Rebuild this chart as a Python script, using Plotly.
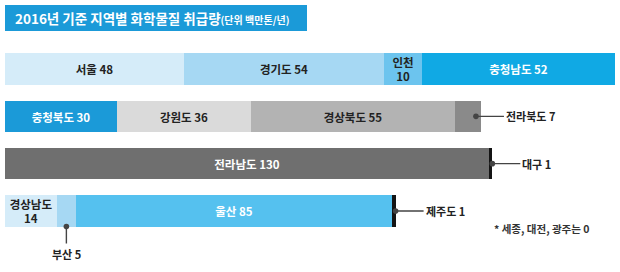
import plotly.graph_objects as go

# Chemical handling volume by region, 2016 (million tons / year), one list per bar row
regions_1 = ["서울", "경기도", "인천", "충청남도"]
values_1 = [48, 54, 10, 52]
regions_2 = ["충청북도", "강원도", "경상북도", "전라북도"]
values_2 = [30, 36, 55, 7]
regions_3 = ["전라남도", "대구"]
values_3 = [130, 1]
regions_4 = ["경상남도", "부산", "울산", "제주도"]
values_4 = [14, 5, 85, 1]

title_text = "2016년 기준 지역별 화학물질 취급량"
unit_text = "(단위 백만톤/년)"
note_text = "* 세종, 대전, 광주는 0"

rows = [
    (regions_1, values_1),
    (regions_2, values_2),
    (regions_3, values_3),
    (regions_4, values_4),
]

# ---- styling ----
FONT = "Noto Sans CJK KR"
W, H = 620, 272
PX_PER_UNIT = 3.72          # horizontal scale
LEFT_PX = 5                 # where zero sits
ROW0_PX, ROW_STEP_PX = 69, 47.33
BAR_W = 0.66

fill = {
    "서울": "#d5ecf9", "경기도": "#a6d8f3", "인천": "#6cc4ee", "충청남도": "#10a9e4",
    "충청북도": "#1b9ad8", "강원도": "#dadada", "경상북도": "#b3b3b3", "전라북도": "#8a8a8a",
    "전라남도": "#6f6f6f", "대구": "#141414",
    "경상남도": "#d5ecf9", "부산": "#a6d8f3", "울산": "#55c1ef", "제주도": "#141414",
}
white_label = {"충청남도", "충청북도", "전라남도", "울산"}
two_line = {"인천", "경상남도"}
callout_right = {"전라북도": 0.8, "대구": 1.0, "제주도": 1.0}   # dot position along the segment
callout_below = {"부산"}

fig = go.Figure()
annotations = []

for r, (names, vals) in enumerate(rows):
    start = 0
    for name, v in zip(names, vals):
        inside = name not in callout_right and name not in callout_below
        if inside:
            label = f"{name}<br>{v}" if name in two_line else f"{name} {v}"
            label = f"<b>{label}</b>"
        else:
            label = ""
        fig.add_trace(go.Bar(
            x=[v], y=[r], orientation="h", width=BAR_W,
            marker=dict(color=fill[name], line=dict(width=0)),
            text=[label], textposition="inside", insidetextanchor="middle",
            textangle=0, constraintext="none",
            textfont=dict(family=FONT, size=11.5,
                          color="#ffffff" if name in white_label else "#222222"),
            hoverinfo="skip", showlegend=False,
        ))
        if name in callout_right:
            annotations.append(dict(
                x=start + v * callout_right[name], y=r, xref="x", yref="y",
                ax=28, ay=0, xanchor="left", yanchor="middle",
                text=f"<b>{name} {v}</b>",
                font=dict(family=FONT, size=11, color="#222222"),
                showarrow=True, arrowhead=6, arrowsize=1, arrowwidth=1.4,
                arrowcolor="#444444", standoff=0, borderpad=1,
            ))
        if name in callout_below:
            annotations.append(dict(
                x=start + v / 2, y=r + BAR_W / 2, xref="x", yref="y",
                ax=0, ay=17, xanchor="center", yanchor="top",
                text=f"<b>{name} {v}</b>",
                font=dict(family=FONT, size=11, color="#222222"),
                showarrow=True, arrowhead=6, arrowsize=1, arrowwidth=1.4,
                arrowcolor="#444444", standoff=0, borderpad=1,
            ))
        start += v

# title block
annotations.append(dict(
    x=13 / W, y=1 - 18 / H, xref="paper", yref="paper",
    xanchor="left", yanchor="middle", showarrow=False,
    text=f"<b>{title_text}<span style='font-size:10px'>{unit_text}</span></b>",
    font=dict(family=FONT, size=13.5, color="#ffffff"),
))
# footnote
annotations.append(dict(
    x=492 / W, y=1 - 228 / H, xref="paper", yref="paper",
    xanchor="left", yanchor="middle", showarrow=False,
    text=f"<b>{note_text}</b>",
    font=dict(family=FONT, size=10.5, color="#333333"),
))

fig.update_layout(
    width=W, height=H, autosize=False,
    margin=dict(l=0, r=0, t=0, b=0),
    paper_bgcolor="#ffffff", plot_bgcolor="#ffffff",
    barmode="stack", bargap=0,
    xaxis=dict(range=[-LEFT_PX / PX_PER_UNIT, (W - LEFT_PX) / PX_PER_UNIT],
               visible=False, fixedrange=True),
    yaxis=dict(range=[(H - ROW0_PX) / ROW_STEP_PX, -ROW0_PX / ROW_STEP_PX],
               visible=False, fixedrange=True),
    shapes=[dict(type="rect", xref="paper", yref="paper",
                 x0=5 / W, x1=307 / W, y0=1 - 31 / H, y1=1 - 5 / H,
                 fillcolor="#1b9ad8", line=dict(width=0), layer="below")],
    annotations=annotations,
)

fig.write_html("out.html")
